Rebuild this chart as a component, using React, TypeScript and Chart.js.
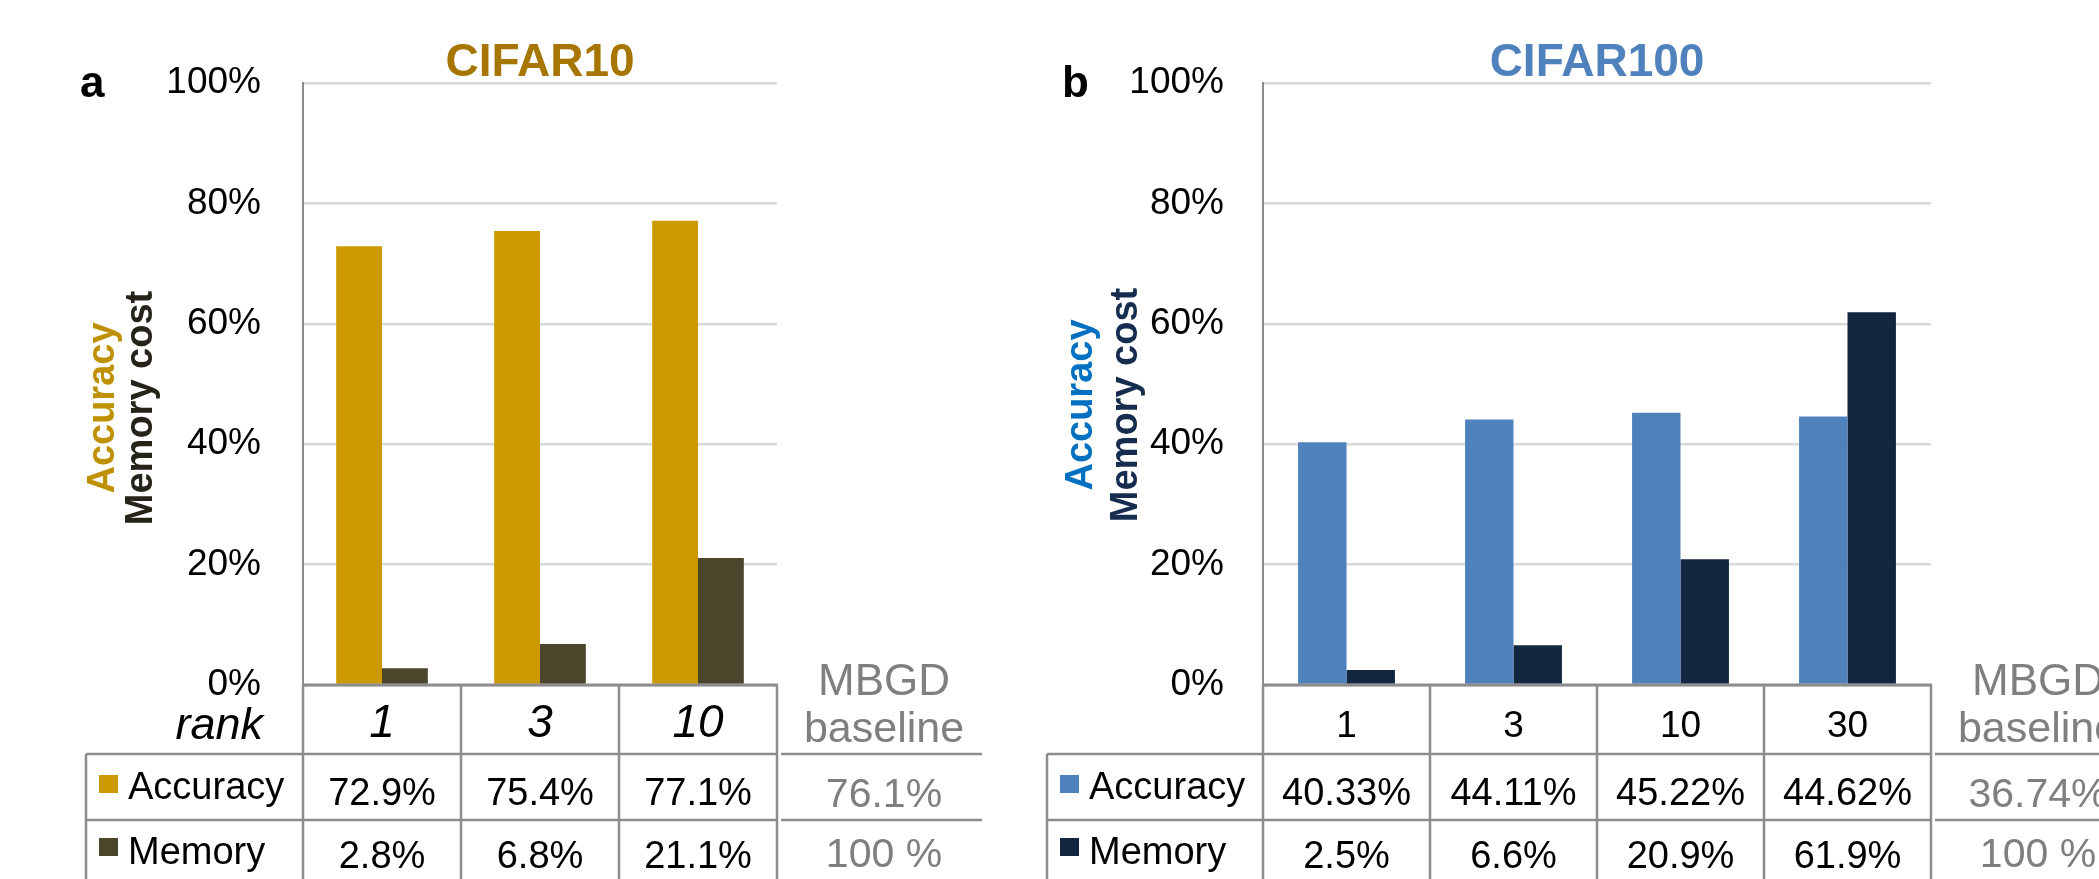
import React, { useEffect, useRef } from "react";
import { Chart, registerables } from "chart.js";

Chart.register(...registerables);

// ---------- data ----------
const cifar10Ranks = ["1", "3", "10"];
const cifar10Accuracy = [72.9, 75.4, 77.1];
const cifar10Memory = [2.8, 6.8, 21.1];
const cifar10BaselineAccuracy = "76.1%";
const cifar10BaselineMemory = "100 %";

const cifar100Ranks = ["1", "3", "10", "30"];
const cifar100Accuracy = [40.33, 44.11, 45.22, 44.62];
const cifar100Memory = [2.5, 6.6, 20.9, 61.9];
const cifar100BaselineAccuracy = "36.74%";
const cifar100BaselineMemory = "100 %";

const yTickValues = [0, 20, 40, 60, 80, 100];
const rowLabels = ["Accuracy", "Memory"];
const baselineHeader = ["MBGD", "baseline"];

// ---------- styling ----------
const F = '"Liberation Sans", Arial, Helvetica, sans-serif';
const LINE = "#8c8c8c";
const GRAY_TEXT = "#7f7f7f";

type PanelCfg = {
  canvasLeft: number;
  width: number;
  height: number;
  area: { left: number; right: number; top: number; bottom: number };
  tickPad: number;
  title: string;
  titleColor: string;
  letter: string;
  letterX: number;
  yTitle1Color: string;
  yTitle1X: number;
  yTitle2Color: string;
  yTitle2X: number;
  yTitleCenter: number;
  catFont: string;
  showRank: boolean;
  legendLeft: number;
  swatchX: number;
  labelX: number;
  ranks: string[];
  accuracy: number[];
  memory: number[];
  accDecimals: number;
  memDecimals: number;
  accColor: string;
  memColor: string;
  baseAcc: string;
  baseMem: string;
};

const leftCfg: PanelCfg = {
  canvasLeft: 0,
  width: 1040,
  height: 879,
  area: { left: 303, right: 777, top: 83, bottom: 685 },
  tickPad: 42,
  title: "CIFAR10",
  titleColor: "#A67600",
  letter: "a",
  letterX: 80,
  yTitle1Color: "#BF9000",
  yTitle1X: 114,
  yTitle2Color: "#25231A",
  yTitle2X: 152,
  yTitleCenter: 408,
  catFont: `italic 46px ${F}`,
  showRank: true,
  legendLeft: 86,
  swatchX: 99,
  labelX: 128,
  ranks: cifar10Ranks,
  accuracy: cifar10Accuracy,
  memory: cifar10Memory,
  accDecimals: 1,
  memDecimals: 1,
  accColor: "#CC9900",
  memColor: "#4B452C",
  baseAcc: cifar10BaselineAccuracy,
  baseMem: cifar10BaselineMemory,
};

const rightCfg: PanelCfg = {
  canvasLeft: 1040,
  width: 1059,
  height: 879,
  area: { left: 223, right: 891, top: 83, bottom: 685 },
  tickPad: 39,
  title: "CIFAR100",
  titleColor: "#4F81BD",
  letter: "b",
  letterX: 22,
  yTitle1Color: "#0070C0",
  yTitle1X: 52,
  yTitle2Color: "#172D50",
  yTitle2X: 97,
  yTitleCenter: 405,
  catFont: `37px ${F}`,
  showRank: false,
  legendLeft: 7,
  swatchX: 20,
  labelX: 49,
  ranks: cifar100Ranks,
  accuracy: cifar100Accuracy,
  memory: cifar100Memory,
  accDecimals: 2,
  memDecimals: 1,
  accColor: "#4F81BD",
  memColor: "#13263F",
  baseAcc: cifar100BaselineAccuracy,
  baseMem: cifar100BaselineMemory,
};

function text(
  ctx: CanvasRenderingContext2D,
  s: string,
  x: number,
  y: number,
  font: string,
  color: string,
  align: CanvasTextAlign = "center"
) {
  ctx.font = font;
  ctx.fillStyle = color;
  ctx.textAlign = align;
  ctx.textBaseline = "alphabetic";
  ctx.fillText(s, x, y);
}

function line(ctx: CanvasRenderingContext2D, x1: number, y1: number, x2: number, y2: number, w = 2.5) {
  ctx.beginPath();
  ctx.strokeStyle = LINE;
  ctx.lineWidth = w;
  ctx.moveTo(x1, y1);
  ctx.lineTo(x2, y2);
  ctx.stroke();
}

function makeTablePlugin(cfg: PanelCfg) {
  return {
    id: "panelTable",
    afterDraw(chart: any) {
      const ctx: CanvasRenderingContext2D = chart.ctx;
      const ca = chart.chartArea;
      const xs = chart.scales.x;
      const n = cfg.ranks.length;
      const colW = (ca.right - ca.left) / n;
      const H = chart.height;
      const row1 = 754;
      const row2 = 820;
      ctx.save();

      // title and panel letter
      text(ctx, cfg.title, (ca.left + ca.right) / 2, 76, `bold 46px ${F}`, cfg.titleColor);
      text(ctx, cfg.letter, cfg.letterX, 97, `bold 44px ${F}`, "#000", "left");

      // rotated two-colour axis title
      const yt = [
        { s: "Accuracy", x: cfg.yTitle1X, c: cfg.yTitle1Color },
        { s: "Memory cost", x: cfg.yTitle2X, c: cfg.yTitle2Color },
      ];
      yt.forEach((t) => {
        ctx.save();
        ctx.translate(t.x, cfg.yTitleCenter);
        ctx.rotate(-Math.PI / 2);
        text(ctx, t.s, 0, 0, `bold 38px ${F}`, t.c);
        ctx.restore();
      });

      // table grid
      line(ctx, ca.left - 1, ca.bottom, ca.right + 1, ca.bottom, 3);
      for (let i = 0; i <= n; i++) {
        const x = ca.left + i * colW;
        line(ctx, x, ca.bottom, x, H);
      }
      line(ctx, cfg.legendLeft, row1, cfg.legendLeft, H);
      [row1, row2].forEach((y) => {
        line(ctx, cfg.legendLeft, y, ca.right, y);
        line(ctx, ca.right + 4, y, ca.right + 205, y);
      });

      // category header
      cfg.ranks.forEach((r, i) => {
        text(ctx, r, xs.getPixelForValue(i), 737, cfg.catFont, "#000");
      });
      if (cfg.showRank) text(ctx, "rank", 263, 739, `italic 45px ${F}`, "#000", "right");

      // legend cells
      const sw = [cfg.accColor, cfg.memColor];
      const swY = [775, 838];
      const lblY = [799, 864];
      rowLabels.forEach((l, k) => {
        ctx.fillStyle = sw[k];
        ctx.fillRect(cfg.swatchX, swY[k], 19, 18);
        text(ctx, l, cfg.labelX, lblY[k], `38px ${F}`, "#000", "left");
      });

      // values
      const valY = [805, 868];
      cfg.accuracy.forEach((v, i) => {
        text(ctx, v.toFixed(cfg.accDecimals) + "%", xs.getPixelForValue(i), valY[0], `38px ${F}`, "#000");
      });
      cfg.memory.forEach((v, i) => {
        text(ctx, v.toFixed(cfg.memDecimals) + "%", xs.getPixelForValue(i), valY[1], `38px ${F}`, "#000");
      });

      // baseline column
      const bx = ca.right + 107;
      text(ctx, baselineHeader[0], bx, 695, `44px ${F}`, GRAY_TEXT);
      text(ctx, baselineHeader[1], bx, 742, `43px ${F}`, GRAY_TEXT);
      text(ctx, cfg.baseAcc, bx, 807, `41px ${F}`, GRAY_TEXT);
      text(ctx, cfg.baseMem, bx, 867, `41px ${F}`, GRAY_TEXT);

      ctx.restore();
    },
  };
}

function Panel({ cfg }: { cfg: PanelCfg }) {
  const ref = useRef<HTMLCanvasElement>(null);
  useEffect(() => {
    const canvas = ref.current;
    if (!canvas) return;
    const a = cfg.area;
    const chart = new Chart(canvas, {
      type: "bar",
      data: {
        labels: cfg.ranks,
        datasets: [
          {
            label: "Accuracy",
            data: cfg.accuracy,
            backgroundColor: cfg.accColor,
            borderWidth: 0,
            categoryPercentage: 0.58,
            barPercentage: 1,
          },
          {
            label: "Memory",
            data: cfg.memory,
            backgroundColor: cfg.memColor,
            borderWidth: 0,
            categoryPercentage: 0.58,
            barPercentage: 1,
          },
        ],
      },
      options: {
        responsive: false,
        animation: false,
        devicePixelRatio: 1,
        layout: {
          padding: {
            left: 0,
            top: a.top,
            right: cfg.width - a.right,
            bottom: cfg.height - a.bottom,
          },
        },
        plugins: {
          legend: { display: false },
          tooltip: { enabled: false },
          title: { display: false },
        },
        scales: {
          x: { display: false, offset: true },
          y: {
            min: 0,
            max: 100,
            afterFit: (s: any) => {
              s.width = a.left;
            },
            afterBuildTicks: (s: any) => {
              s.ticks = yTickValues.map((v) => ({ value: v }));
            },
            ticks: {
              padding: cfg.tickPad,
              color: "#000",
              font: { family: F, size: 37 },
              callback: (v: any) => v + "%",
            },
            grid: { color: "#d9d9d9", lineWidth: 2.5, drawTicks: false },
            border: { display: true, color: "#8a8a8a", width: 2 },
          },
        },
      },
      plugins: [makeTablePlugin(cfg)],
    } as any);
    return () => chart.destroy();
  }, [cfg]);
  return (
    <canvas
      ref={ref}
      width={cfg.width}
      height={cfg.height}
      style={{ position: "absolute", left: cfg.canvasLeft, top: 0, width: cfg.width, height: cfg.height }}
    />
  );
}

export default function App() {
  return (
    <div style={{ position: "relative", width: 2099, height: 879, overflow: "hidden", background: "#fff" }}>
      <style>{`html,body{margin:0;padding:0;background:#fff;overflow:hidden}`}</style>
      <Panel cfg={leftCfg} />
      <Panel cfg={rightCfg} />
    </div>
  );
}
